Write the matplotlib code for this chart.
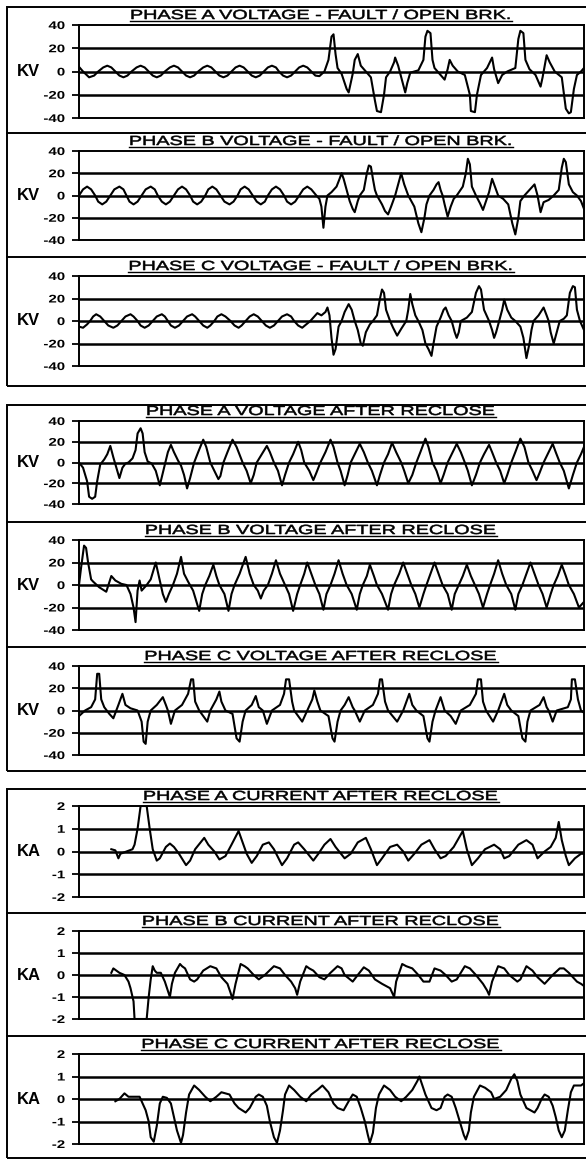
import matplotlib as mpl
import matplotlib.pyplot as plt
import numpy as np
from matplotlib.lines import Line2D
from matplotlib.patches import Rectangle
from matplotlib.patheffects import AbstractPathEffect
from matplotlib.transforms import Affine2D

mpl.rcParams.update({
    "font.family": ["Liberation Sans", "DejaVu Sans"],
    "axes.unicode_minus": False,
})

# --- data: (time sample, value) ---
PHASE_A_FAULT = [
    (0, 4), (4, 0), (10, -5), (15, -3.5), (19, 0), (24, 3.5), (28, 5), (32, 3.5), (36, 0), (40, -3.5),
    (44, -5), (48, -3.5), (52, 0), (57, 3.5), (61, 5), (65, 3.5), (69, 0), (73, -3.5), (77, -5), (81, -3.5),
    (85, 0), (90, 3.5), (94, 5), (98, 3.5), (102, 0), (106, -3.5), (110, -5), (114, -3.5), (118, 0), (123, 3.5),
    (127, 5), (131, 3.5), (135, 0), (139, -3.5), (143, -5), (147, -3.5), (151, 0), (155, 3.5), (159, 5), (163, 3.5),
    (167, 0), (171, -3.5), (175, -5), (179, -3.5), (183, 0), (187, 3.5), (191, 5), (195, 3.5), (198, 0), (202, -3.5),
    (206, -5), (210, -3.5), (214, 0), (218, 3.5), (222, 5), (226, 3.5), (230, 0), (234, -3.5), (238, -4),
    (243, 0), (247, 10), (250, 30), (252, 32), (254, 15), (256, 3), (260, -2), (265, -15), (267, -18), (271, -2),
    (273, 10), (276, 15), (279, 5), (284, 0), (289, -5), (293, -25), (295, -34), (299, -35), (302, -20), (304, -5),
    (308, 0), (312, 8), (313, 12), (316, 5), (320, -8), (323, -18), (325, -10), (328, -1), (336, 1), (341, 10),
    (343, 30), (345, 35), (348, 33), (350, 10), (352, 3), (358, -3), (362, -7), (365, 2), (367, 10), (370, 5),
    (375, 0), (382, -3), (387, -20), (388, -34), (392, -35), (394, -20), (398, -3), (404, 3), (409, 12), (411, 2),
    (415, -10), (419, -3), (424, 0), (432, 3), (435, 28), (437, 35), (440, 33), (442, 10), (446, 2), (452, -3),
    (457, -13), (459, -5), (463, 14), (466, 8), (471, 0), (478, -5), (482, -32), (485, -36), (487, -35), (490, -15),
    (493, -3), (497, 0), (500, 3),
]

PHASE_B_FAULT = [
    (0, 0), (4, 5.5), (8, 8), (12, 5.5), (16, 0), (19, -5.5), (23, -8), (27, -5.5), (31, 0), (35, 5.5),
    (40, 8), (44, 5.5), (47, 0), (50, -5.5), (54, -8), (58, -5.5), (62, 0), (66, 5.5), (71, 8), (75, 5.5),
    (78, 0), (82, -5.5), (86, -8), (90, -5.5), (94, 0), (98, 5.5), (102, 8), (106, 5.5), (110, 0), (113, -5.5),
    (117, -8), (121, -5.5), (125, 0), (128, 5.5), (132, 8), (136, 5.5), (140, 0), (144, -5.5), (149, -8), (153, -5.5),
    (157, 0), (160, 5.5), (164, 8), (168, 5.5), (172, 0), (176, -5.5), (180, -8), (184, -5.5), (187, 0), (191, 5.5),
    (195, 8), (199, 5.5), (203, 0), (206, -5.5), (210, -8), (214, -5.5), (218, 0), (222, 5.5), (226, 8), (230, 5.5),
    (235, 0), (238, -3), (240, -10), (242, -29), (244, -10), (246, 0), (250, 3), (255, 8), (258, 15), (260, 20),
    (262, 15), (265, 5), (268, -5), (271, -12), (273, -15), (276, -5), (278, 0), (282, 5), (285, 20), (287, 27),
    (289, 26), (291, 15), (293, 5), (295, 0), (300, -8), (303, -14), (306, -17), (309, -10), (313, 0), (316, 10),
    (319, 20), (322, 10), (326, 0), (329, -5), (332, -10), (336, -25), (339, -33), (342, -20), (344, -8), (347, 0),
    (351, 5), (354, 10), (356, 12), (358, 5), (360, 0), (362, -8), (365, -19), (368, -10), (371, -3), (374, 0),
    (380, 8), (383, 20), (385, 33), (387, 28), (389, 8), (393, 0), (397, -7), (400, -13), (403, -5), (406, 3),
    (409, 15), (411, 10), (415, 0), (420, -3), (425, -8), (429, -25), (432, -35), (435, -20), (437, -5), (441, 0),
    (446, 5), (451, 10), (454, 0), (457, -15), (460, -6), (465, -4), (470, 0), (475, 5), (478, 25), (480, 33),
    (482, 30), (485, 10), (489, 3), (493, 0), (497, -5), (500, -12),
]

PHASE_C_FAULT = [
    (0, -5), (4, -6), (8, -3), (11, 0), (14, 4), (17, 6), (21, 4), (25, 0), (29, -4), (34, -6),
    (38, -4), (42, 0), (46, 4), (51, 6), (54, 4), (58, 0), (61, -4), (65, -6), (69, -4), (73, 0),
    (77, 4), (82, 6), (85, 4), (88, 0), (91, -4), (95, -6), (99, -4), (103, 0), (107, 4), (112, 6),
    (115, 4), (119, 0), (123, -4), (127, -6), (130, -4), (134, 0), (137, 4), (141, 6), (145, 4), (150, 0),
    (154, -4), (158, -6), (161, -4), (165, 0), (169, 4), (173, 6), (177, 4), (181, 0), (185, -4), (189, -6),
    (193, -4), (197, 0), (201, 4), (206, 6), (210, 4), (213, 0), (217, -4), (221, -6), (225, -3), (229, 0),
    (233, 4), (236, 7), (240, 5), (244, 8), (246, 12), (248, 5), (250, -15), (252, -30), (254, -25), (257, -5),
    (260, 0), (263, 8), (267, 15), (270, 10), (273, 0), (276, -8), (279, -20), (281, -22), (284, -10), (288, -3),
    (291, 0), (295, 5), (298, 20), (300, 28), (302, 25), (304, 10), (308, 0), (311, -6), (315, -13), (319, -7),
    (324, 0), (326, 10), (328, 24), (330, 15), (333, 5), (336, 0), (340, -8), (343, -20), (346, -25), (349, -31),
    (351, -20), (354, -5), (358, 3), (361, 10), (363, 12), (366, 5), (369, 0), (372, -10), (374, -15), (376, -10),
    (378, 0), (384, 3), (389, 8), (393, 25), (396, 31), (398, 28), (401, 10), (406, 0), (409, -8), (411, -15),
    (413, -10), (416, 0), (419, 10), (421, 19), (424, 10), (428, 3), (432, 0), (437, -5), (440, -15), (443, -33),
    (446, -20), (448, -8), (450, 0), (455, 5), (460, 12), (463, 5), (465, 0), (467, -10), (470, -20), (473, -10),
    (476, 0), (480, 2), (483, 5), (486, 25), (489, 31), (491, 30), (493, 10), (496, 0), (500, -8),
]

PHASE_A_RECLOSE = [
    (0, 0), (4, -5), (8, -18), (10, -33), (13, -35), (16, -33), (18, -18), (21, -2), (25, 3), (28, 8),
    (31, 16), (34, 5), (37, -5), (40, -15), (43, -5), (46, -1), (49, 0), (53, 4), (56, 12), (58, 28),
    (61, 33), (63, 28), (65, 10), (68, 1), (72, -1), (76, -8), (80, -22), (83, -10), (86, 2), (88, 10),
    (91, 17), (94, 10), (98, 2), (101, -3), (104, -12), (107, -25), (110, -15), (114, 0), (118, 10), (123, 22),
    (126, 15), (130, 0), (134, -8), (138, -16), (140, -13), (143, 0), (147, 10), (152, 22), (156, 15), (162, 0),
    (166, -8), (170, -20), (173, -12), (176, 0), (181, 8), (186, 16), (189, 10), (193, 0), (197, -8), (201, -22),
    (204, -12), (208, 0), (212, 8), (217, 20), (220, 12), (223, 0), (228, -8), (232, -17), (235, -10), (239, 0),
    (244, 10), (249, 22), (252, 15), (256, 0), (259, -8), (263, -22), (266, -12), (269, 0), (273, 8), (278, 18),
    (282, 10), (286, 0), (290, -8), (295, -22), (298, -12), (302, 0), (306, 8), (310, 19), (314, 10), (319, 0),
    (322, -8), (326, -20), (330, -12), (334, 0), (338, 10), (343, 23), (346, 15), (350, 0), (354, -8), (358, -20),
    (361, -12), (365, 0), (369, 8), (374, 18), (378, 10), (382, 0), (385, -8), (389, -22), (393, -12), (397, 0),
    (401, 8), (406, 17), (409, 10), (413, 0), (417, -8), (421, -20), (424, -12), (428, 0), (432, 10), (437, 23),
    (441, 15), (445, 0), (449, -8), (453, -17), (456, -10), (460, 0), (464, 8), (469, 18), (472, 10), (476, 0),
    (480, -8), (485, -25), (489, -12), (493, 0), (497, 8), (500, 15),
]

PHASE_B_RECLOSE = [
    (0, 0), (2, 15), (5, 35), (7, 33), (9, 20), (12, 5), (14, 3), (20, -2), (27, -6), (32, 8),
    (36, 4), (42, 1), (47, 0), (51, -8), (54, -20), (56, -33), (58, -5), (60, 4), (62, -5), (67, 0),
    (71, 5), (76, 20), (79, 8), (83, -8), (86, -15), (89, -8), (93, 0), (97, 10), (101, 25), (104, 10),
    (108, 3), (113, -5), (119, -23), (122, -8), (125, 0), (129, 8), (133, 18), (136, 8), (139, 0), (144, -8),
    (148, -23), (151, -8), (154, 0), (159, 10), (165, 25), (169, 10), (173, 0), (177, -5), (180, -12), (183, -5),
    (187, 0), (191, 10), (195, 22), (199, 10), (204, 0), (208, -8), (212, -23), (216, -8), (219, 0), (223, 10),
    (226, 20), (230, 10), (234, 0), (238, -8), (242, -22), (245, -8), (249, 0), (253, 10), (257, 22), (261, 10),
    (265, 0), (270, -8), (275, -22), (278, -8), (281, 0), (285, 8), (288, 18), (292, 8), (295, 0), (300, -8),
    (306, -22), (309, -8), (312, 0), (317, 10), (321, 20), (325, 10), (329, 0), (333, -8), (337, -20), (341, -8),
    (344, 0), (348, 10), (352, 20), (356, 10), (360, 0), (365, -8), (369, -22), (372, -8), (376, 0), (380, 8),
    (384, 18), (388, 8), (392, 0), (396, -8), (400, -20), (404, -8), (407, 0), (411, 10), (415, 22), (419, 10),
    (423, 0), (428, -8), (432, -22), (435, -8), (439, 0), (443, 10), (447, 20), (451, 10), (455, 0), (459, -8),
    (463, -20), (467, -8), (470, 0), (474, 8), (478, 18), (482, 8), (485, 0), (490, -8), (495, -20), (500, -15),
]

PHASE_C_RECLOSE = [
    (0, -5), (6, 0), (12, 3), (16, 10), (18, 33), (20, 33), (22, 10), (25, 3), (30, -3), (34, -7),
    (39, 5), (43, 15), (46, 5), (51, 2), (58, 0), (62, -10), (64, -28), (66, -30), (68, -10), (71, 0),
    (77, 5), (83, 12), (86, 5), (88, 0), (91, -12), (95, 0), (102, 5), (108, 15), (111, 28), (113, 28),
    (115, 8), (119, 0), (127, -10), (130, 0), (136, 10), (139, 17), (141, 8), (145, 0), (152, -3), (156, -25),
    (159, -28), (162, -10), (165, 0), (171, 5), (175, 13), (178, 3), (182, 0), (186, -12), (191, 0), (199, 5),
    (203, 15), (205, 28), (208, 28), (211, 8), (213, 0), (221, -10), (226, 0), (231, 10), (233, 18), (236, 8),
    (239, 0), (247, -5), (251, -25), (253, -28), (256, -10), (259, 0), (263, 5), (267, 12), (271, 3), (273, 0),
    (278, -10), (283, 0), (291, 5), (296, 15), (298, 28), (300, 28), (303, 8), (306, 0), (315, -10), (321, 0),
    (325, 10), (327, 15), (330, 5), (334, 0), (341, -5), (345, -25), (347, -28), (350, -10), (353, 0), (358, 12),
    (362, 0), (368, -5), (373, -12), (378, 0), (387, 5), (393, 15), (395, 28), (398, 28), (400, 8), (403, 0),
    (410, -10), (415, 0), (419, 10), (421, 15), (424, 5), (428, 0), (435, -5), (439, -25), (442, -28), (444, -10),
    (447, 0), (456, 5), (460, 12), (463, 3), (465, 0), (469, -10), (473, 0), (484, 3), (487, 10), (488, 28),
    (491, 28), (494, 10), (497, 0), (500, -2),
]

PHASE_A_CURRENT = [
    (32, 0.1), (36, 0.05), (39, -0.3), (41, -0.1), (47, 0), (53, 0.1), (55, 0.3), (58, 1.0), (61, 2.0), (67, 2.0),
    (70, 1.0), (73, 0.1), (77, -0.4), (80, -0.3), (86, 0.2), (90, 0.35), (94, 0.2), (99, -0.1), (106, -0.6), (110, -0.4),
    (115, 0.1), (124, 0.6), (128, 0.3), (134, 0), (139, -0.35), (145, -0.2), (151, 0.3), (158, 0.9), (162, 0.4), (166, -0.1),
    (171, -0.5), (176, -0.2), (182, 0.3), (188, 0.4), (193, 0.1), (201, -0.6), (206, -0.3), (213, 0.3), (217, 0.4), (223, 0.1),
    (232, -0.4), (237, -0.1), (243, 0.3), (249, 0.55), (254, 0.2), (263, -0.3), (269, -0.1), (276, 0.4), (284, 0.6), (289, 0.1),
    (295, -0.6), (300, -0.3), (308, 0.2), (315, 0.3), (321, 0), (326, -0.4), (332, -0.1), (339, 0.3), (347, 0.5), (352, 0.1),
    (358, -0.3), (363, -0.2), (371, 0.2), (380, 0.9), (384, 0.1), (389, -0.6), (395, -0.3), (402, 0.1), (411, 0.3), (417, 0.1),
    (421, -0.3), (426, -0.2), (435, 0.3), (443, 0.5), (449, 0.3), (454, -0.3), (461, 0), (467, 0.2), (472, 0.6), (475, 1.3),
    (478, 0.5), (482, -0.2), (485, -0.6), (491, -0.3), (497, -0.1), (500, -0.1),
]

PHASE_B_CURRENT = [
    (32, 0.1), (34, 0.3), (37, 0.2), (40, 0.1), (45, 0), (49, -0.3), (51, -0.6), (54, -1.2), (55, -2), (62, -2),
    (67, -2), (69, -1), (71, -0.2), (73, 0.4), (75, 0.2), (77, 0.1), (81, 0.1), (85, -0.3), (90, -1.0), (92, -0.4),
    (95, 0.1), (100, 0.5), (102, 0.4), (105, 0.3), (110, -0.2), (114, -0.3), (117, -0.2), (123, 0.2), (130, 0.4), (136, 0.3),
    (141, -0.1), (147, -0.4), (150, -0.8), (152, -1.1), (155, -0.4), (160, 0.5), (164, 0.4), (167, 0.3), (173, 0), (178, -0.2),
    (184, 0), (193, 0.4), (199, 0.3), (204, 0), (210, -0.3), (214, -0.6), (216, -0.9), (219, -0.3), (225, 0.4), (228, 0.3),
    (232, 0.2), (238, -0.1), (243, -0.2), (249, 0.1), (256, 0.4), (260, 0.3), (263, 0), (271, -0.3), (276, 0), (282, 0.35),
    (287, 0.2), (293, -0.2), (300, -0.4), (308, -0.6), (312, -1.0), (314, -0.3), (320, 0.5), (324, 0.4), (330, 0.3), (336, 0),
    (341, -0.3), (347, -0.3), (352, 0.3), (358, 0.2), (363, 0), (369, -0.3), (374, -0.2), (382, 0.4), (387, 0.3), (393, 0),
    (400, -0.4), (404, -0.7), (406, -0.9), (409, -0.3), (415, 0.4), (421, 0.3), (426, 0), (434, -0.3), (437, -0.2), (443, 0.4),
    (449, 0.2), (454, -0.1), (461, -0.4), (469, 0), (476, 0.3), (480, 0.3), (485, 0.1), (493, -0.3), (497, -0.4), (500, -0.5),
]

PHASE_C_CURRENT = [
    (36, -0.1), (40, 0), (45, 0.25), (49, 0.1), (60, 0.1), (64, -0.3), (66, -0.5), (69, -1.0), (71, -1.7), (74, -1.9),
    (77, -1.2), (80, -0.2), (83, 0.1), (87, 0.05), (91, -0.2), (94, -0.8), (97, -1.4), (101, -1.95), (103, -1.6), (106, -0.6),
    (109, 0.2), (114, 0.6), (119, 0.4), (125, 0.1), (130, -0.1), (136, 0.1), (141, 0.3), (149, 0.2), (154, -0.2), (158, -0.4),
    (165, -0.6), (169, -0.4), (175, 0.1), (178, 0.2), (182, 0.1), (186, -0.3), (189, -1.0), (193, -1.7), (196, -1.95), (199, -1.4),
    (202, -0.5), (204, 0.2), (208, 0.6), (213, 0.4), (219, 0.1), (225, -0.1), (230, 0.2), (236, 0.4), (241, 0.6), (247, 0.3),
    (252, -0.2), (256, -0.4), (262, -0.5), (267, -0.1), (271, 0.2), (275, 0.1), (279, -0.4), (283, -1.0), (286, -1.6), (288, -1.95),
    (291, -1.5), (294, -0.4), (297, 0.2), (302, 0.6), (308, 0.4), (313, 0.1), (319, -0.1), (324, 0.1), (330, 0.4), (335, 0.8),
    (337, 1.0), (340, 0.6), (343, 0.2), (349, -0.4), (354, -0.5), (358, -0.4), (362, 0.1), (365, 0.2), (369, 0.1), (373, -0.4),
    (377, -1.0), (381, -1.6), (383, -1.8), (386, -1.4), (388, -0.6), (391, 0.1), (397, 0.6), (402, 0.5), (408, 0.3), (411, 0),
    (417, 0.1), (423, 0.4), (428, 0.9), (431, 1.1), (434, 0.8), (437, 0.2), (443, -0.4), (447, -0.5), (451, -0.6), (454, -0.4),
    (458, 0), (461, 0.2), (465, 0.1), (469, -0.3), (472, -0.8), (475, -1.4), (478, -1.7), (481, -1.4), (484, -0.5), (487, 0.3),
    (490, 0.6), (497, 0.6), (500, 0.7),
]

TITLES = [
    "PHASE A VOLTAGE - FAULT / OPEN BRK.",
    "PHASE B VOLTAGE - FAULT / OPEN BRK.",
    "PHASE C VOLTAGE - FAULT / OPEN BRK.",
    "PHASE A VOLTAGE AFTER RECLOSE",
    "PHASE B VOLTAGE AFTER RECLOSE",
    "PHASE C VOLTAGE AFTER RECLOSE",
    "PHASE A CURRENT AFTER RECLOSE",
    "PHASE B CURRENT AFTER RECLOSE",
    "PHASE C CURRENT AFTER RECLOSE",
]
SERIES = [PHASE_A_FAULT, PHASE_B_FAULT, PHASE_C_FAULT,
          PHASE_A_RECLOSE, PHASE_B_RECLOSE, PHASE_C_RECLOSE,
          PHASE_A_CURRENT, PHASE_B_CURRENT, PHASE_C_CURRENT]
KV_TICKS = [-40, -20, 0, 20, 40]
KA_TICKS = [-2, -1, 0, 1, 2]

# --- layout in pixels of the 586 x 1159 page ---
W, H = 586, 1159
AX_TOPS = [25, 151, 276, 421, 540, 666, 806, 931, 1054]
AX_BOTS = [118, 240, 366, 504, 630, 755, 897, 1019, 1144]
AX_LEFT, AX_RIGHT = 79, 584
GROUPS = [(7, 386), (405, 771), (789, 1158)]
DIVIDERS = [133, 257, 522, 647, 913, 1036]
TITLE_CX = 321
TITLE_STRETCH = 1.5   # the scanned lettering is much wider than plain Arial
TICK_STRETCH = 1.35


class Widen(AbstractPathEffect):
    """Draw text glyphs stretched horizontally around a left/centre/right anchor,
    optionally with a thin outline to mimic the heavy scanned print."""

    def __init__(self, sx, anchor="center", stroke=0.0):
        super().__init__()
        self.sx = sx
        self.anchor = anchor
        self.stroke = stroke

    def draw_path(self, renderer, gc, tpath, affine, rgbFace=None):
        ext = tpath.transformed(affine).get_extents()
        cx = {"left": ext.x0, "center": (ext.x0 + ext.x1) / 2, "right": ext.x1}[self.anchor]
        affine = affine + Affine2D().translate(-cx, 0).scale(self.sx, 1).translate(cx, 0)
        gc0 = renderer.new_gc()
        gc0.copy_properties(gc)
        if self.stroke:
            gc0.set_linewidth(self.stroke)
            gc0.set_foreground("black")
        renderer.draw_path(gc0, tpath, affine, rgbFace)
        gc0.restore()


fig = plt.figure(figsize=(W / 100, H / 100), dpi=100)


def fx(px):
    return px / W


def fy(py):
    return 1 - py / H


for gt, gb in GROUPS:
    fig.patches.append(Rectangle((fx(7), fy(gb)), fx(620) - fx(7), fy(gt) - fy(gb),
                                 transform=fig.transFigure, fill=False, lw=1.4, ec="black"))
for d in DIVIDERS:
    fig.lines.append(Line2D([fx(7), 1.0], [fy(d), fy(d)], transform=fig.transFigure, lw=1.4, color="black"))

title_texts = []
for i, (title, data) in enumerate(zip(TITLES, SERIES)):
    top, bot = AX_TOPS[i], AX_BOTS[i]
    ax = fig.add_axes([fx(AX_LEFT), fy(bot), fx(AX_RIGHT) - fx(AX_LEFT), fy(top) - fy(bot)])
    t, v = np.array(data).T
    ticks = KV_TICKS if i < 6 else KA_TICKS
    for g in ticks[1:-1]:
        ax.axhline(g, color="black", lw=1.8, zorder=1)
    ax.plot(t, v, color="black", lw=1.5, zorder=2)
    ax.set_xlim(0, 500)
    ax.set_ylim(ticks[0], ticks[-1])
    ax.set_yticks(ticks)
    ax.set_yticklabels([str(k) for k in ticks], fontsize=8, fontweight="bold",
                       path_effects=[Widen(TICK_STRETCH, "right")])
    ax.set_xticks([])
    ax.tick_params(axis="y", direction="out", length=5, width=1.3, pad=5)
    for s in ax.spines.values():
        s.set_linewidth(1.4)
    zero_y = top + (bot - top) / 2
    fig.text(fx(17), fy(zero_y), "KV" if i < 6 else "KA", fontsize=12, fontweight="bold",
             ha="left", va="center")
    base = top - 6
    tt = fig.text(fx(TITLE_CX), fy(base), title, fontsize=9.5, ha="center", va="baseline",
                  path_effects=[Widen(TITLE_STRETCH, "center", stroke=0.4)])
    title_texts.append((tt, base))

# underline the titles (width of the stretched lettering)
fig.canvas.draw()
for tt, base in title_texts:
    bb = tt.get_window_extent()
    half = bb.width * TITLE_STRETCH / 2
    cx = (bb.x0 + bb.x1) / 2
    y = fy(base + 1.5)
    fig.lines.append(Line2D([(cx - half) / W, (cx + half) / W], [y, y], transform=fig.transFigure,
                            lw=1.0, color="black"))

fig.savefig("out.png", dpi=100)
